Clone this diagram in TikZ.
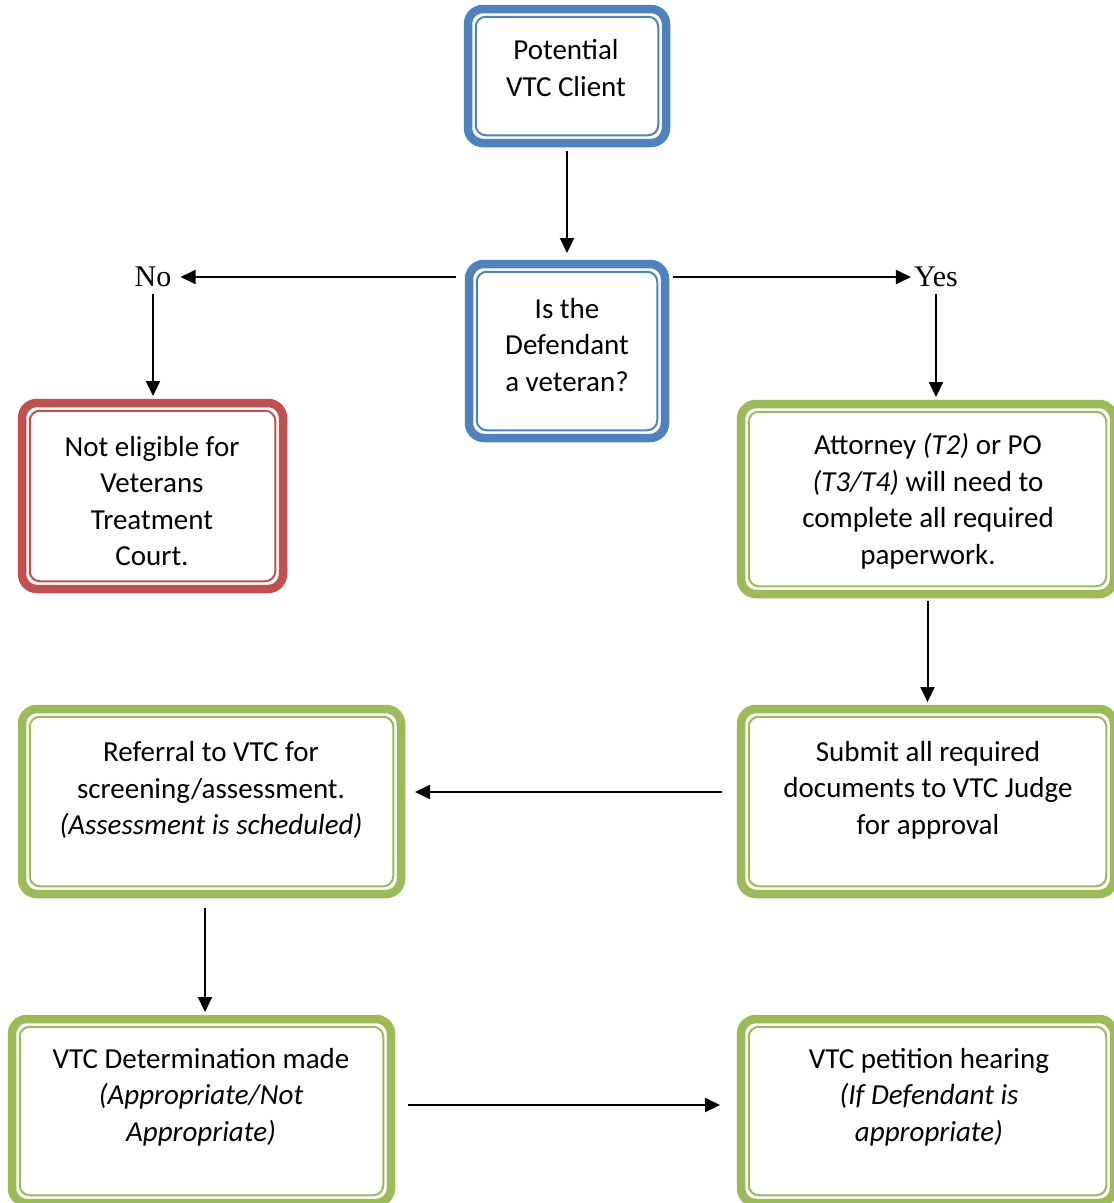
\documentclass[tikz,border=0pt]{standalone}
\usepackage{fontspec}
\setmainfont{Carlito}
\newfontfamily\tnrfont{Liberation Serif}
\usetikzlibrary{arrows.meta}
\definecolor{vblue}{HTML}{4F81BD}
\definecolor{vred}{HTML}{C0504D}
\definecolor{vgreen}{HTML}{9BBB59}
\begin{document}
\begin{tikzpicture}[x=1pt,y=-1pt,
  boxshape/.style={draw=#1, line width=8.5pt, rounded corners=15pt, outer sep=0pt, inner sep=0pt, fill=white},
  boxtext/.style={align=center, inner sep=0pt, font=\fontsize{29}{36.5}\selectfont},
  yn/.style={inner sep=0pt, font=\tnrfont\fontsize{30}{36}\selectfont},
  arr/.style={line width=2pt, -{Triangle[width=14pt,length=15pt]}}
]
\useasboundingbox (0,0) rectangle (1114,1203);
% boxes
\node[boxshape=vblue, minimum width=198pt, minimum height=134pt] (b1) at (567,76) {};
\node[boxshape=vblue, minimum width=196pt, minimum height=174pt] (b2) at (567,351) {};
\node[boxshape=vred, minimum width=261pt, minimum height=186pt] (b3) at (152.5,496) {};
\node[boxshape=vgreen, minimum width=373pt, minimum height=190pt] (b4) at (927.5,499) {};
\node[boxshape=vgreen, minimum width=373pt, minimum height=185pt] (b5) at (927.5,801.5) {};
\node[boxshape=vgreen, minimum width=379pt, minimum height=185pt] (b6) at (211.5,801.5) {};
\node[boxshape=vgreen, minimum width=379pt, minimum height=184pt] (b7) at (201.5,1111) {};
\node[boxshape=vgreen, minimum width=373pt, minimum height=184pt] (b8) at (927.5,1111) {};
\foreach \n/\c in {b1/vblue,b2/vblue,b3/vred,b4/vgreen,b5/vgreen,b6/vgreen,b7/vgreen,b8/vgreen}
  \draw[draw=\c, line width=2pt, rounded corners=10pt]
    ([shift={(7.75pt,7.75pt)}]\n.south west) rectangle ([shift={(-7.75pt,-7.75pt)}]\n.north east);
% texts
\node[boxtext] (t1) at (566,68) {Potential\\VTC Client};
\node[boxtext] (t2) at (567,345) {Is the\\Defendant\\a veteran?};
\node[boxtext] (t3) at (152,501) {Not eligible for\\Veterans\\Treatment\\Court.};
\node[boxtext] (t4) at (928,501) {Attorney \textit{(T2)} or PO\\\textit{(T3/T4)} will need to\\complete all required\\paperwork.};
\node[boxtext] (t5) at (928,790) {Submit all required\\documents to VTC Judge\\for approval};
\node[boxtext] (t6) at (211,790) {Referral to VTC for\\screening/assessment.\\\textit{(Assessment is scheduled)}};
\node[boxtext] (t7) at (201,1097) {VTC Determination made\\\textit{(Appropriate/Not}\\\textit{Appropriate)}};
\node[boxtext] (t8) at (929,1097) {VTC petition hearing\\\textit{(If Defendant is}\\\textit{appropriate)}};
% labels
\node[yn] (no) at (153,277) {No};
\node[yn] (yes) at (936,277) {Yes};
% connectors
\draw[arr, shorten <=8pt, shorten >=11pt] (b1.south) -- (b2.north);
\draw[arr, shorten <=13pt, shorten >=9pt] (b2.west |- no.east) -- (no.east);
\draw[arr, shorten <=7pt, shorten >=7pt] (no.south) -- (no.south |- b3.north);
\draw[arr, shorten <=8pt, shorten >=3pt] (b2.east |- yes.west) -- (yes.west);
\draw[arr, shorten <=7pt, shorten >=7pt] (yes.south) -- (yes.south |- b4.north);
\draw[arr, shorten <=7pt, shorten >=7pt] (b4.south) -- (b5.north);
\draw[arr, shorten <=19pt, shorten >=14pt] ([yshift=9.5pt]b5.west) -- ([yshift=9.5pt]b5.west -| b6.east);
\draw[arr, shorten <=14pt, shorten >=7pt] ([xshift=-6.5pt]b6.south) -- ([xshift=-6.5pt]b6.south |- b7.north);
\draw[arr, shorten <=17pt, shorten >=21pt] ([yshift=6pt]b7.east) -- ([yshift=6pt]b7.east -| b8.west);
\end{tikzpicture}
\end{document}
